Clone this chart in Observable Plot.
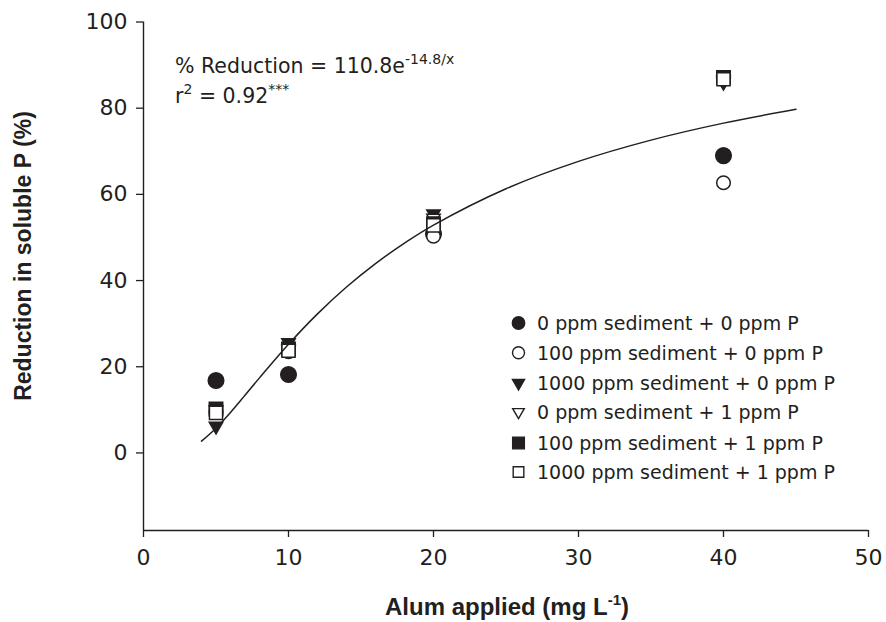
<!DOCTYPE html>
<html>
<head>
<meta charset="utf-8">
<script src="https://cdn.jsdelivr.net/npm/d3@7"></script>
<script src="https://cdn.jsdelivr.net/npm/@observablehq/plot@0.6"></script>
<style>
html, body { margin: 0; padding: 0; background: #ffffff; }
#chart { width: 886px; height: 622px; }
</style>
</head>
<body>
<div id="chart"></div>
<script>
// ---- Data ----
const alumApplied = [5, 10, 20, 40];           // mg L-1
const seriesNames = [
  "0 ppm sediment + 0 ppm P",
  "100 ppm sediment + 0 ppm P",
  "1000 ppm sediment + 0 ppm P",
  "0 ppm sediment + 1 ppm P",
  "100 ppm sediment + 1 ppm P",
  "1000 ppm sediment + 1 ppm P"
];
const sed0P0    = [16.8, 18.2, 50.8, 69.0];
const sed100P0  = [9.5, 23.5, 50.3, 62.7];
const sed1000P0 = [6.2, 25.6, 55.5, 86.0];
const sed0P1    = [10.0, 24.0, 54.5, 86.5];
const sed100P1  = [10.2, 24.1, 53.2, 87.1];
const sed1000P1 = [9.3, 23.7, 52.8, 86.7];
const seriesValues = [sed0P0, sed100P0, sed1000P0, sed0P1, sed100P1, sed1000P1];

// Fitted curve % Reduction = 110.8 e^(-14.8/x), points along the drawn line
const fitAlum      = [4, 5, 6, 7, 8, 10, 12, 14, 16, 18, 20, 25, 30, 35, 40, 45];
const fitReduction = [2.74, 5.74, 9.40, 13.38, 17.42, 25.22, 32.27, 38.50, 43.94, 48.69, 52.86, 61.30, 67.65, 72.59, 76.53, 79.75];

const xTicks = [0, 10, 20, 30, 40, 50];
const yTicks = [0, 20, 40, 60, 80, 100];

// ---- Styles ----
const ink = "#231f20";
const seriesStyle = [
  {symbol: "circle",   fill: ink,     r: 7.8, rotate: 0,   lr: 6.2},
  {symbol: "circle",   fill: "#fff",  r: 6.8, rotate: 0,   lr: 6.0},
  {symbol: "triangle", fill: ink,     r: 5.0, rotate: 180, lr: 4.5},
  {symbol: "triangle", fill: "#fff",  r: 5.0, rotate: 180, lr: 4.3},
  {symbol: "square",   fill: ink,     r: 7.6, rotate: 0,   lr: 6.6},
  {symbol: "square",   fill: "#fff",  r: 7.4, rotate: 0,   lr: 6.0}
];

const rows = [];
seriesValues.forEach((vals, i) => {
  vals.forEach((v, j) => rows.push({series: seriesNames[i], idx: i, alum: alumApplied[j], reduction: v}));
});
const fitRows = fitAlum.map((x, i) => ({alum: x, reduction: fitReduction[i]}));

const dotMarks = seriesStyle.map((s, i) =>
  Plot.dot(rows.filter(d => d.idx === i), {
    x: "alum", y: "reduction",
    symbol: s.symbol, r: s.r, rotate: s.rotate,
    fill: s.fill, stroke: ink, strokeWidth: 1.5
  })
);

const chart = Plot.plot({
  width: 886,
  height: 622,
  marginLeft: 143,
  marginRight: 18,
  marginTop: 21.5,
  marginBottom: 92,
  x: {domain: [0, 50]},
  y: {domain: [-18, 100]},
  style: {fontFamily: "'DejaVu Sans', sans-serif", fontSize: "21px", color: ink, background: "#ffffff"},
  marks: [
    Plot.axisX({ticks: xTicks, tickSize: 7, tickPadding: 12, label: null, fontSize: 21, strokeWidth: 1.3, tickFormat: d => String(d)}),
    Plot.axisY({ticks: yTicks, tickSize: 7, tickPadding: 9, label: null, fontSize: 21, strokeWidth: 1.3, tickFormat: d => String(d)}),
    Plot.ruleX([0], {stroke: ink, strokeWidth: 1.4}),
    Plot.ruleY([-18], {stroke: ink, strokeWidth: 1.4}),
    ...dotMarks,
    Plot.line(fitRows, {x: "alum", y: "reduction", curve: "catmull-rom", stroke: ink, strokeWidth: 1.5})
  ]
});
document.getElementById("chart").appendChild(chart);

// ---- Titles, annotation, legend ----
const svg = d3.select(chart);
svg.selectAll('g[aria-label$="tick label"]')
  .attr("font-size", 22).attr("font-family", "'DejaVu Sans', sans-serif")
  .selectAll("text").attr("font-size", 22);

const boldFont = "'Liberation Sans', Arial, sans-serif";
const textFont = "'DejaVu Sans', sans-serif";

svg.append("text")
  .attr("transform", "translate(23,256) rotate(-90)")
  .attr("text-anchor", "middle").attr("dy", "0.35em")
  .attr("font-family", boldFont).attr("font-weight", "bold").attr("font-size", 23)
  .attr("fill", ink)
  .text("Reduction in soluble P (%)");

const xt = svg.append("text")
  .attr("x", 507).attr("y", 615)
  .attr("text-anchor", "middle")
  .attr("font-family", boldFont).attr("font-weight", "bold").attr("font-size", 24)
  .attr("fill", ink);
xt.append("tspan").text("Alum applied (mg L");
xt.append("tspan").attr("font-size", 15).attr("dy", -10).text("-1");
xt.append("tspan").attr("dy", 10).text(")");

const a1 = svg.append("text").attr("x", 175).attr("y", 73)
  .attr("text-anchor", "start")
  .attr("font-family", textFont).attr("font-size", 20.5).attr("fill", ink);
a1.append("tspan").text("% Reduction = 110.8e");
a1.append("tspan").attr("font-size", 14).attr("dy", -9).text("-14.8/x");

const a2 = svg.append("text").attr("x", 175).attr("y", 103)
  .attr("text-anchor", "start")
  .attr("font-family", textFont).attr("font-size", 20.5).attr("fill", ink);
a2.append("tspan").text("r");
a2.append("tspan").attr("font-size", 14).attr("dy", -9).text("2");
a2.append("tspan").attr("dy", 9).text(" = 0.92");
a2.append("tspan").attr("font-size", 14).attr("dy", -9).text("***");

const legendY = [323, 352.7, 383, 412, 443, 472];
const symMap = {circle: d3.symbolCircle, triangle: d3.symbolTriangle, square: d3.symbolSquare};
const lg = svg.append("g");
seriesStyle.forEach((s, i) => {
  lg.append("path")
    .attr("d", d3.symbol(symMap[s.symbol], s.lr * s.lr * Math.PI)())
    .attr("transform", `translate(518.5,${legendY[i]}) rotate(${s.rotate})`)
    .attr("fill", s.fill).attr("stroke", ink).attr("stroke-width", 1.4);
  lg.append("text")
    .attr("x", 537).attr("y", legendY[i]).attr("dy", "0.36em")
    .attr("text-anchor", "start")
    .attr("font-family", textFont).attr("font-size", 19).attr("fill", ink)
    .text(seriesNames[i]);
});
</script>
</body>
</html>
